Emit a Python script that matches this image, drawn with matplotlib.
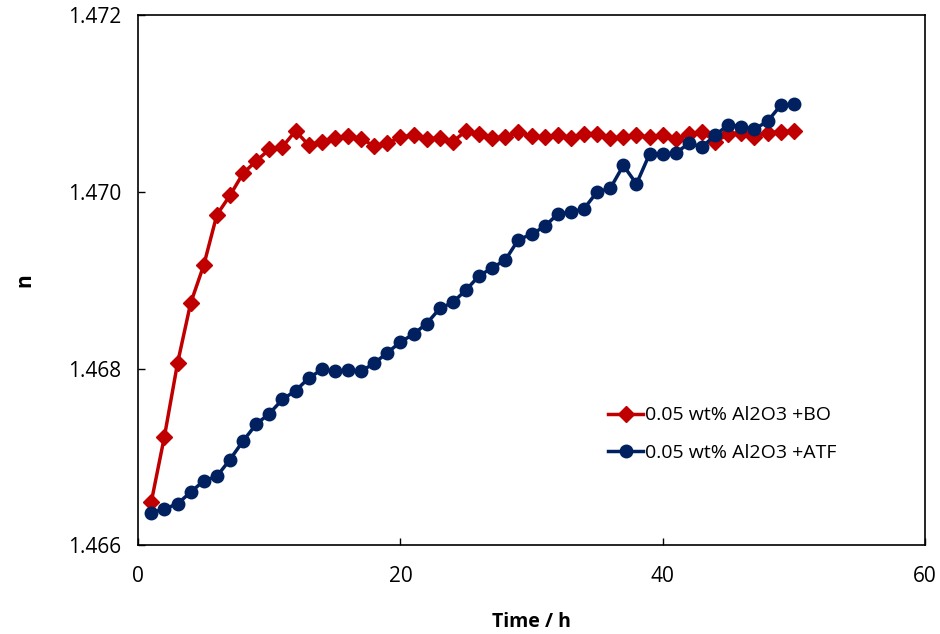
import matplotlib.pyplot as plt

# Time in hours
time_h = list(range(1, 51))

# refractive index, BO based nanofluid
n_bo = [1.46649, 1.46723, 1.46806, 1.46874, 1.46917, 1.46974, 1.46996, 1.47021, 1.47035, 1.47048,
        1.47051, 1.47069, 1.47053, 1.47057, 1.47061, 1.47063, 1.47060, 1.47052, 1.47055, 1.47062,
        1.47064, 1.47060, 1.47061, 1.47057, 1.47069, 1.47065, 1.47061, 1.47062, 1.47068, 1.47063,
        1.47062, 1.47064, 1.47061, 1.47066, 1.47066, 1.47061, 1.47062, 1.47064, 1.47062, 1.47064,
        1.47060, 1.47065, 1.47068, 1.47057, 1.47065, 1.47067, 1.47062, 1.47067, 1.47068, 1.47069]

# refractive index, ATF based nanofluid
n_atf = [1.46637, 1.46641, 1.46647, 1.46660, 1.46673, 1.46678, 1.46697, 1.46718, 1.46737, 1.46749,
         1.46765, 1.46775, 1.46789, 1.46799, 1.46797, 1.46798, 1.46797, 1.46806, 1.46818, 1.46830,
         1.46839, 1.46851, 1.46868, 1.46875, 1.46889, 1.46905, 1.46914, 1.46923, 1.46946, 1.46952,
         1.46961, 1.46975, 1.46977, 1.46981, 1.47000, 1.47004, 1.47030, 1.47009, 1.47043, 1.47043,
         1.47044, 1.47055, 1.47051, 1.47064, 1.47076, 1.47074, 1.47071, 1.47080, 1.47098, 1.47099]

labels = ['0.05 wt% Al2O3 +BO', '0.05 wt% Al2O3 +ATF']

plt.rcParams['font.family'] = ['Open Sans', 'DejaVu Sans']

fig = plt.figure(figsize=(9.4, 6.34), dpi=100)
ax = fig.add_axes([0.147, 0.140, 0.837, 0.836])

ax.plot(time_h, n_bo, color='#C00000', lw=2.5, marker='D', markersize=8, label=labels[0])
ax.plot(time_h, n_atf, color='#002060', lw=2.5, marker='o', markersize=9, label=labels[1])

ax.set_xlim(0, 60)
ax.set_ylim(1.466, 1.472)
ax.set_xticks([0, 20, 40, 60])
ax.set_yticks([1.466, 1.468, 1.470, 1.472])
ax.set_yticklabels(['1.466', '1.468', '1.470', '1.472'])
ax.tick_params(direction='in', length=5, width=1, labelsize=15, pad=12)
ax.tick_params(axis='x', pad=15)
for s in ax.spines.values():
    s.set_linewidth(1.2)

ax.set_xlabel('Time / h', fontsize=14, fontweight='bold', labelpad=18)
ax.set_ylabel('n', fontsize=15, fontweight='bold', labelpad=24)

ax.legend(loc='upper left', bbox_to_anchor=(0.575, 0.295), frameon=False, fontsize=14,
          handlelength=1.8, handletextpad=0.1, labelspacing=1.0)

plt.savefig('out.png', dpi=100)
